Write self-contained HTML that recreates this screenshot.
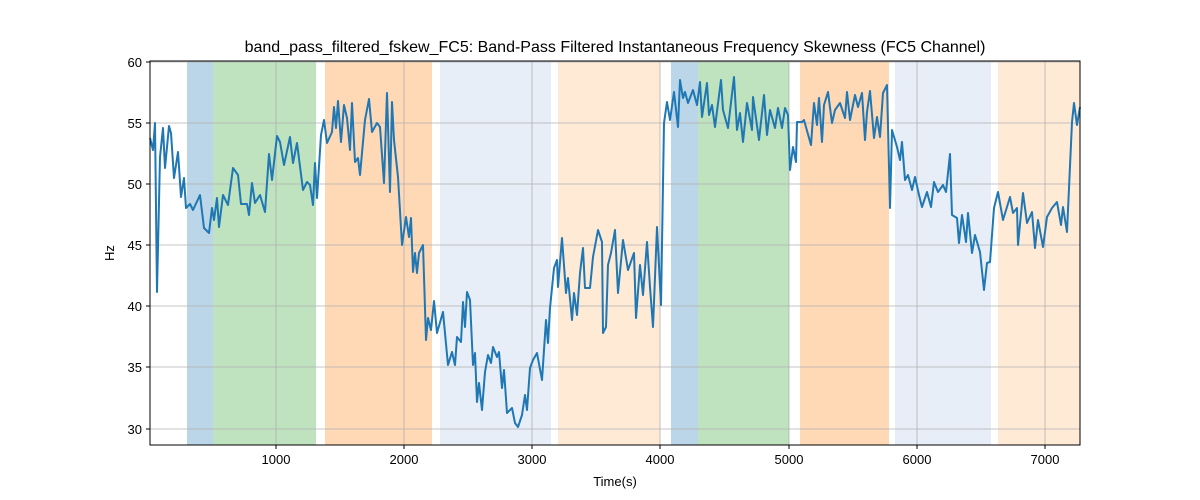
<!DOCTYPE html>
<html><head><meta charset="utf-8"><style>body{margin:0;background:#fff}svg{display:block;font-family:"Liberation Sans","DejaVu Sans",sans-serif}</style></head><body>
<svg width="1200" height="500" viewBox="0 0 1200 500">
<g>
<rect x="187" y="61" width="26" height="384" fill="#1f77b4" opacity="0.3"/>
<rect x="213" y="61" width="103" height="384" fill="#2ca02c" opacity="0.3"/>
<rect x="325" y="61" width="107" height="384" fill="#ff7f0e" opacity="0.3"/>
<rect x="440" y="61" width="111" height="384" fill="#aec7e8" opacity="0.3"/>
<rect x="558" y="61" width="102" height="384" fill="#ffbb78" opacity="0.3"/>
<rect x="671" y="61" width="27" height="384" fill="#1f77b4" opacity="0.3"/>
<rect x="698" y="61" width="91" height="384" fill="#2ca02c" opacity="0.3"/>
<rect x="800" y="61" width="89" height="384" fill="#ff7f0e" opacity="0.3"/>
<rect x="895" y="61" width="96" height="384" fill="#aec7e8" opacity="0.3"/>
<rect x="998" y="61" width="82" height="384" fill="#ffbb78" opacity="0.3"/>
</g>
<g stroke="#b0b0b0" stroke-width="0.8">
<line x1="276" y1="61" x2="276" y2="445"/><line x1="404" y1="61" x2="404" y2="445"/><line x1="532" y1="61" x2="532" y2="445"/><line x1="660" y1="61" x2="660" y2="445"/><line x1="789" y1="61" x2="789" y2="445"/><line x1="917" y1="61" x2="917" y2="445"/><line x1="1045" y1="61" x2="1045" y2="445"/>
<line x1="150" y1="62" x2="1080" y2="62"/><line x1="150" y1="123" x2="1080" y2="123"/><line x1="150" y1="184" x2="1080" y2="184"/><line x1="150" y1="245" x2="1080" y2="245"/><line x1="150" y1="306" x2="1080" y2="306"/><line x1="150" y1="367" x2="1080" y2="367"/><line x1="150" y1="429" x2="1080" y2="429"/>
</g>
<polyline fill="none" stroke="#1f77b4" stroke-width="2" stroke-linejoin="round" points="150,138 153,150 155,123 157,292 160,157 163,128 165,168 169,126 171,133 174,178 178,152 181,197 184,178 186,208 190,204 193,210 200,195 204,228 209,233 212,208 214,220 217,198 219,227 223,195 228,205 233,168 238,175 241,204 247,204 249,215 252,183 255,203 260,195 265,212 269,154 272,180 277,136 280,142 284,165 290,137 293,163 297,143 303,190 307,182 310,185 313,205 315,163 317,198 321,135 324,120 327,143 332,132 334,107 336,128 338,101 341,142 344,105 347,118 350,150 352,103 355,162 358,158 360,175 365,120 369,99 372,132 377,123 380,127 384,183 387,93 390,192 392,102 394,140 398,177 402,245 406,217 409,237 411,218 413,272 415,253 417,273 419,253 423,245 426,340 428,318 431,330 434,301 437,333 443,312 448,365 452,352 455,365 457,337 461,342 463,302 465,327 467,292 470,300 473,365 475,353 477,402 479,383 482,410 485,372 488,355 491,363 493,347 497,357 499,352 502,388 504,370 507,413 512,408 515,423 518,427 522,415 525,395 527,410 530,368 533,360 537,353 542,380 546,320 548,343 550,308 554,268 557,260 558,287 562,238 566,293 568,278 572,320 574,293 577,315 580,273 583,248 585,288 590,288 593,257 598,230 602,242 603,333 606,327 608,265 611,253 615,230 618,293 623,240 628,270 634,253 636,318 640,265 643,295 647,242 650,287 653,327 657,227 661,305 664,123 667,102 670,120 674,92 678,127 680,80 683,98 685,92 688,103 693,90 697,105 700,82 702,117 707,83 709,115 712,105 715,127 721,80 723,110 728,128 734,77 737,130 740,113 743,142 747,103 752,130 753,97 759,140 764,95 767,135 770,110 775,128 778,108 782,128 785,108 788,115 790,170 793,147 796,162 797,122 802,122 804,120 811,145 814,103 817,125 819,98 822,142 824,105 828,92 832,123 835,110 840,103 845,118 847,92 850,120 855,95 858,107 862,93 865,140 867,112 870,91 874,138 877,117 880,137 883,93 887,85 890,208 892,130 897,147 900,160 902,142 905,180 908,175 912,190 915,177 919,195 922,207 927,192 931,207 934,182 938,192 943,185 946,192 950,154 952,215 957,218 959,243 962,215 966,242 968,213 972,253 975,235 980,252 984,290 987,263 990,262 994,208 998,192 1003,220 1010,197 1013,213 1017,208 1018,245 1023,193 1027,223 1032,212 1035,248 1038,220 1043,247 1047,217 1052,208 1057,202 1061,225 1063,207 1067,232 1072,122 1074,103 1077,125 1080,107"/>
<rect x="150" y="61" width="930" height="384" fill="none" stroke="#000" stroke-width="1"/>
<g stroke="#000"><line x1="276" y1="445" x2="276" y2="449"/><line x1="404" y1="445" x2="404" y2="449"/><line x1="532" y1="445" x2="532" y2="449"/><line x1="660" y1="445" x2="660" y2="449"/><line x1="789" y1="445" x2="789" y2="449"/><line x1="917" y1="445" x2="917" y2="449"/><line x1="1045" y1="445" x2="1045" y2="449"/>
<line x1="146" y1="62" x2="150" y2="62"/><line x1="146" y1="123" x2="150" y2="123"/><line x1="146" y1="184" x2="150" y2="184"/><line x1="146" y1="245" x2="150" y2="245"/><line x1="146" y1="306" x2="150" y2="306"/><line x1="146" y1="367" x2="150" y2="367"/><line x1="146" y1="429" x2="150" y2="429"/></g>
<g font-size="13" fill="#000" text-anchor="middle"><text x="276" y="464">1000</text><text x="404" y="464">2000</text><text x="532" y="464">3000</text><text x="660" y="464">4000</text><text x="789" y="464">5000</text><text x="917" y="464">6000</text><text x="1045" y="464">7000</text>
<text x="615" y="486">Time(s)</text>
<text x="615" y="52" font-size="16">band_pass_filtered_fskew_FC5: Band-Pass Filtered Instantaneous Frequency Skewness (FC5 Channel)</text></g>
<g font-size="13" fill="#000" text-anchor="end"><text x="142" y="67">60</text><text x="142" y="128">55</text><text x="142" y="189">50</text><text x="142" y="250">45</text><text x="142" y="311">40</text><text x="142" y="372">35</text><text x="142" y="434">30</text></g>
<text x="114" y="253" font-size="13" text-anchor="middle" transform="rotate(-90 114 253)">Hz</text>
</svg>
</body></html>
